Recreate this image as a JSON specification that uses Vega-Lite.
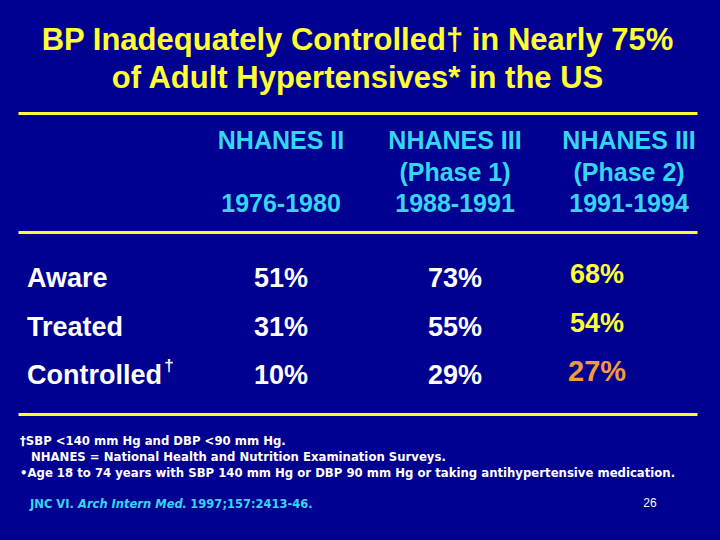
{
  "$schema": "https://vega.github.io/schema/vega-lite/v6.json",
  "background": "#000090",
  "padding": {"left": 18, "right": 23, "top": 25, "bottom": 0},
  "bounds": "flush",
  "spacing": 0,
  "title": {
    "text": ["BP Inadequately Controlled† in Nearly 75%", "of Adult Hypertensives* in the US"],
    "color": "#FFFF33",
    "font": "Liberation Sans",
    "fontSize": 31,
    "fontWeight": "bold",
    "lineHeight": 38,
    "anchor": "middle",
    "offset": 18
  },
  "datasets": {
    "headers": [
      {"survey": "NHANES II", "part": "name", "text": "NHANES II"},
      {"survey": "NHANES II", "part": "period", "text": "1976-1980"},
      {"survey": "NHANES III (Phase 1)", "part": "name", "text": "NHANES III"},
      {"survey": "NHANES III (Phase 1)", "part": "phase", "text": "(Phase 1)"},
      {"survey": "NHANES III (Phase 1)", "part": "period", "text": "1988-1991"},
      {"survey": "NHANES III (Phase 2)", "part": "name", "text": "NHANES III"},
      {"survey": "NHANES III (Phase 2)", "part": "phase", "text": "(Phase 2)"},
      {"survey": "NHANES III (Phase 2)", "part": "period", "text": "1991-1994"}
    ],
    "results": [
      {"measure": "Aware", "survey": "NHANES II", "value": 0.51},
      {"measure": "Aware", "survey": "NHANES III (Phase 1)", "value": 0.73},
      {"measure": "Aware", "survey": "NHANES III (Phase 2)", "value": 0.68},
      {"measure": "Treated", "survey": "NHANES II", "value": 0.31},
      {"measure": "Treated", "survey": "NHANES III (Phase 1)", "value": 0.55},
      {"measure": "Treated", "survey": "NHANES III (Phase 2)", "value": 0.54},
      {"measure": "Controlled", "survey": "NHANES II", "value": 0.10},
      {"measure": "Controlled", "survey": "NHANES III (Phase 1)", "value": 0.29},
      {"measure": "Controlled", "survey": "NHANES III (Phase 2)", "value": 0.27}
    ],
    "rowNotes": [
      {"measure": "Controlled", "note": "†"}
    ],
    "notes": [
      {"line": "1", "text": "†SBP <140 mm Hg and DBP <90 mm Hg."},
      {"line": "2", "text": "NHANES = National Health and Nutrition Examination Surveys."},
      {"line": "3", "text": "•Age 18 to 74 years with SBP 140 mm Hg or DBP 90 mm Hg or taking antihypertensive medication."}
    ],
    "cite": [
      {"piece": "source", "text": "JNC VI."},
      {"piece": "journal", "text": "Arch Intern Med"},
      {"piece": "ref", "text": ". 1997;157:2413-46."}
    ],
    "page": [
      {"page": "26"}
    ]
  },
  "resolve": {"scale": {"x": "shared"}},
  "vconcat": [
    {
      "width": 679,
      "height": 119,
      "data": {"name": "headers"},
      "mark": {"type": "text", "color": "#36D6F2", "fontSize": 25, "baseline": "middle"},
      "encoding": {
        "x": {
          "field": "survey",
          "type": "nominal",
          "scale": {"type": "point", "domain": ["label", "NHANES II", "NHANES III (Phase 1)", "NHANES III (Phase 2)"], "padding": 0.451, "align": 0.567},
          "axis": {"orient": "top", "title": null}
        },
        "y": {
          "field": "part",
          "type": "nominal",
          "scale": {"type": "point", "domain": ["name", "phase", "period"], "padding": 0.86},
          "axis": null
        },
        "text": {"field": "text"}
      }
    },
    {
      "width": 679,
      "height": 182,
      "encoding": {
        "y": {
          "field": "measure",
          "type": "nominal",
          "scale": {"type": "point", "domain": ["Aware", "Treated", "Controlled"], "padding": 0.876, "align": 0.555},
          "axis": null
        }
      },
      "layer": [
        {
          "data": {"name": "results"},
          "transform": [{"filter": "datum.survey !== 'NHANES III (Phase 2)'"}],
          "mark": {"type": "text", "color": "white", "fontSize": 27, "baseline": "middle"},
          "encoding": {
            "x": {"field": "survey", "type": "nominal", "axis": {"orient": "top", "title": null}},
            "text": {"field": "value", "format": ".0%"}
          }
        },
        {
          "data": {"name": "results"},
          "transform": [{"filter": "datum.survey === 'NHANES III (Phase 2)'"}],
          "mark": {"type": "text", "baseline": "middle", "dx": -32, "dy": -4},
          "encoding": {
            "x": {"field": "survey", "type": "nominal", "axis": {"orient": "top", "title": null}},
            "text": {"field": "value", "format": ".0%"},
            "color": {"condition": {"test": "datum.measure === 'Controlled'", "value": "#F39A3C"}, "value": "#FFFF33"},
            "size": {"condition": {"test": "datum.measure === 'Controlled'", "value": 29}, "value": 27}
          }
        },
        {
          "data": {"name": "results"},
          "transform": [{"filter": "datum.survey === 'NHANES II'"}],
          "mark": {"type": "text", "color": "white", "fontSize": 27, "baseline": "middle", "align": "left", "dx": -80},
          "encoding": {
            "x": {"datum": "label", "type": "nominal", "axis": {"orient": "top", "title": null}},
            "text": {"field": "measure"}
          }
        },
        {
          "data": {"name": "rowNotes"},
          "mark": {"type": "text", "color": "white", "fontSize": 17, "baseline": "middle", "align": "center", "dx": 62, "dy": -10},
          "encoding": {
            "x": {"datum": "label", "type": "nominal", "axis": {"orient": "top", "title": null}},
            "text": {"field": "note"}
          }
        }
      ]
    },
    {
      "width": 679,
      "height": 126,
      "encoding": {
        "y": {
          "field": "line",
          "type": "nominal",
          "scale": {"type": "point", "domain": ["0", "1", "2", "3", "4", "5", "6", "7"], "padding": 0.4375, "align": 0.786},
          "axis": null
        }
      },
      "layer": [
        {
          "data": {"name": "notes"},
          "transform": [{"filter": "datum.line !== '2'"}],
          "mark": {"type": "text", "color": "white", "font": "DejaVu Sans", "fontSize": 11.7, "align": "left", "baseline": "middle", "dx": -87},
          "encoding": {
            "x": {"datum": "label", "type": "nominal", "axis": {"orient": "top", "title": null}},
            "text": {"field": "text"}
          }
        },
        {
          "data": {"name": "notes"},
          "transform": [{"filter": "datum.line === '2'"}],
          "mark": {"type": "text", "color": "white", "font": "DejaVu Sans", "fontSize": 11.7, "align": "left", "baseline": "middle", "dx": -76},
          "encoding": {
            "x": {"datum": "label", "type": "nominal", "axis": {"orient": "top", "title": null}},
            "text": {"field": "text"}
          }
        },
        {
          "data": {"name": "cite"},
          "transform": [{"filter": "datum.piece === 'source'"}],
          "mark": {"type": "text", "color": "#36D6F2", "font": "DejaVu Sans", "fontSize": 11.5, "align": "left", "baseline": "middle", "dx": -77},
          "encoding": {
            "x": {"datum": "label", "type": "nominal", "axis": {"orient": "top", "title": null}},
            "y": {"datum": "5", "type": "nominal", "axis": null},
            "text": {"field": "text"}
          }
        },
        {
          "data": {"name": "cite"},
          "transform": [{"filter": "datum.piece === 'journal'"}],
          "mark": {"type": "text", "color": "#36D6F2", "font": "DejaVu Sans", "fontSize": 11.5, "fontStyle": "italic", "align": "left", "baseline": "middle", "dx": -29},
          "encoding": {
            "x": {"datum": "label", "type": "nominal", "axis": {"orient": "top", "title": null}},
            "y": {"datum": "5", "type": "nominal", "axis": null},
            "text": {"field": "text"}
          }
        },
        {
          "data": {"name": "cite"},
          "transform": [{"filter": "datum.piece === 'ref'"}],
          "mark": {"type": "text", "color": "#36D6F2", "font": "DejaVu Sans", "fontSize": 11.5, "align": "left", "baseline": "middle", "dx": 75},
          "encoding": {
            "x": {"datum": "label", "type": "nominal", "axis": {"orient": "top", "title": null}},
            "y": {"datum": "5", "type": "nominal", "axis": null},
            "text": {"field": "text"}
          }
        },
        {
          "data": {"name": "page"},
          "mark": {"type": "text", "color": "white", "fontSize": 12, "fontWeight": "normal", "align": "center", "baseline": "middle", "dx": 21, "dy": -2},
          "encoding": {
            "x": {"datum": "NHANES III (Phase 2)", "type": "nominal", "axis": {"orient": "top", "title": null}},
            "y": {"datum": "5", "type": "nominal", "axis": null},
            "text": {"field": "page"}
          }
        }
      ]
    }
  ],
  "config": {
    "view": {"stroke": null},
    "text": {"font": "Liberation Sans", "fontWeight": "bold"},
    "axis": {"labels": false, "ticks": false, "grid": false, "domainColor": "#FFFF33", "domainWidth": 3}
  }
}
